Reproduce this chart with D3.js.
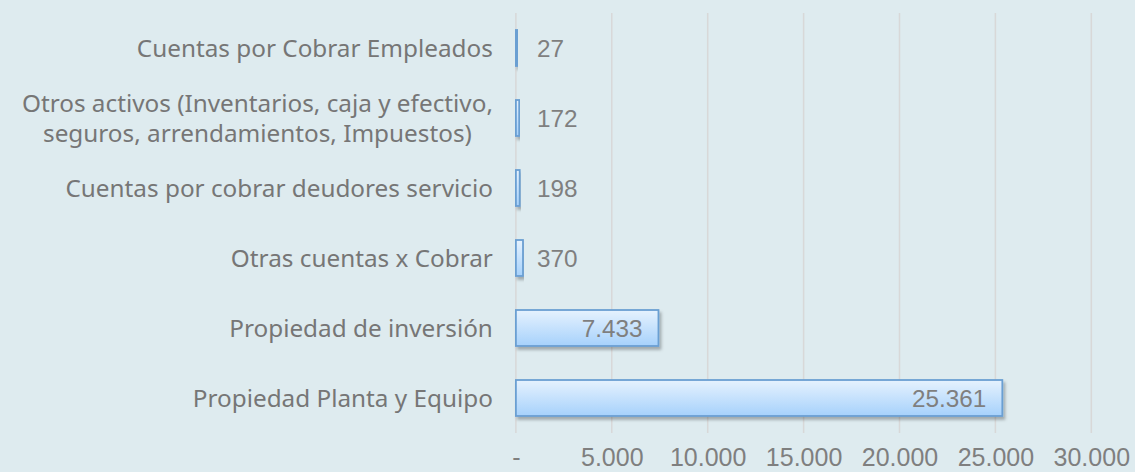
<!DOCTYPE html>
<html><head><meta charset="utf-8">
<script src="https://cdn.jsdelivr.net/npm/d3@7"></script>
<style>
html,body{margin:0;padding:0;background:#deebef;}
svg{display:block;}
</style></head>
<body>
<svg id="chart" width="1135" height="472"></svg>
<script>
const categories = [
  "Cuentas por Cobrar Empleados",
  "Otros activos (Inventarios, caja y efectivo,|seguros, arrendamientos, Impuestos)",
  "Cuentas por cobrar deudores servicio",
  "Otras cuentas x Cobrar",
  "Propiedad de inversión",
  "Propiedad Planta y Equipo"
];
const values = [27, 172, 198, 370, 7433, 25361];
const valueLabels = ["27", "172", "198", "370", "7.433", "25.361"];
const tickValues = [0, 5000, 10000, 15000, 20000, 25000, 30000];
const tickLabels = ["-", "5.000", "10.000", "15.000", "20.000", "25.000", "30.000"];

const svg = d3.select("#chart");
const W = 1135, H = 472;
const x0 = 515.9, x1 = 1091.3, yTop = 13, yBot = 433;
const numFont = "Liberation Sans, Arial, sans-serif";
const catFont = "Noto Sans, sans-serif";

svg.append("rect").attr("width", W).attr("height", H).attr("fill", "#deebef");

const defs = svg.append("defs");
const grad = defs.append("linearGradient").attr("id", "barGrad")
  .attr("x1", 0).attr("y1", 0).attr("x2", 0).attr("y2", 1);
grad.append("stop").attr("offset", "0%").attr("stop-color", "#e6f2fe");
grad.append("stop").attr("offset", "100%").attr("stop-color", "#a6d1fb");
const filt = defs.append("filter").attr("id", "shadow")
  .attr("x", "-5%").attr("y", "-30%").attr("width", "115%").attr("height", "180%");
filt.append("feDropShadow").attr("dx", 2).attr("dy", 3).attr("stdDeviation", 1.8)
  .attr("flood-color", "#000").attr("flood-opacity", 0.28);

const x = d3.scaleLinear().domain([0, 30000]).range([x0, x1]);
const y = d3.scaleBand().domain(categories).range([yTop, yBot]).paddingInner(0.486).paddingOuter(0.243);

// gridlines
svg.append("g").selectAll("line").data(tickValues).join("line")
  .attr("x1", d => x(d)).attr("x2", d => x(d))
  .attr("y1", yTop).attr("y2", yBot)
  .attr("stroke", "#d8d8d8").attr("stroke-width", 1.5);

// x axis
const xAxis = d3.axisBottom(x).tickValues(tickValues)
  .tickFormat((d, i) => tickLabels[i]).tickSize(0).tickPadding(0);
const gx = svg.append("g").attr("transform", `translate(0,${yBot})`).call(xAxis);
gx.select(".domain").remove();
gx.selectAll("text").attr("dy", 0).attr("y", 32.5)
  .attr("font-family", numFont)
  .attr("font-size", 25).attr("fill", "#7f7f7f");

// bars
svg.append("g").selectAll("rect").data(values).join("rect")
  .attr("x", x(0))
  .attr("y", (d, i) => y(categories[i]))
  .attr("width", d => Math.max(x(d) - x(0), 1.5))
  .attr("height", y.bandwidth())
  .attr("fill", "url(#barGrad)")
  .attr("stroke", "#6b9fd2").attr("stroke-width", 1.8)
  .attr("filter", "url(#shadow)");

// value labels
svg.append("g").selectAll("text").data(values).join("text")
  .attr("x", (d, i) => i >= 4 ? x(d) - 16 : Math.max(x(d) + 14, x(0) + 21))
  .attr("y", (d, i) => y(categories[i]) + y.bandwidth() / 2)
  .attr("dy", "0.35em")
  .attr("text-anchor", (d, i) => i >= 4 ? "end" : "start")
  .attr("font-family", numFont)
  .attr("font-size", 24.3).attr("fill", "#7f7f7f")
  .text((d, i) => valueLabels[i]);

// category labels
const yAxis = d3.axisLeft(y).tickSize(0).tickPadding(0).tickFormat("");
const gy = svg.append("g").attr("transform", `translate(${x0 - 23},0)`).call(yAxis);
gy.select(".domain").remove();
gy.selectAll(".tick").each(function(d) {
  const lines = d.split("|");
  const g = d3.select(this);
  const texts = lines.map((l, i) => g.append("text")
    .attr("text-anchor", lines.length > 1 ? "middle" : "end")
    .attr("x", 0)
    .attr("y", (i - (lines.length - 1) / 2) * 30)
    .attr("dy", "0.35em")
    .attr("font-family", catFont)
    .attr("font-size", 24.3).attr("fill", "#767676")
    .text(l));
  if (lines.length > 1) {
    const w = d3.max(texts, t => t.node().getComputedTextLength());
    texts.forEach(t => t.attr("x", -w / 2));
  }
});
</script>
</body></html>
